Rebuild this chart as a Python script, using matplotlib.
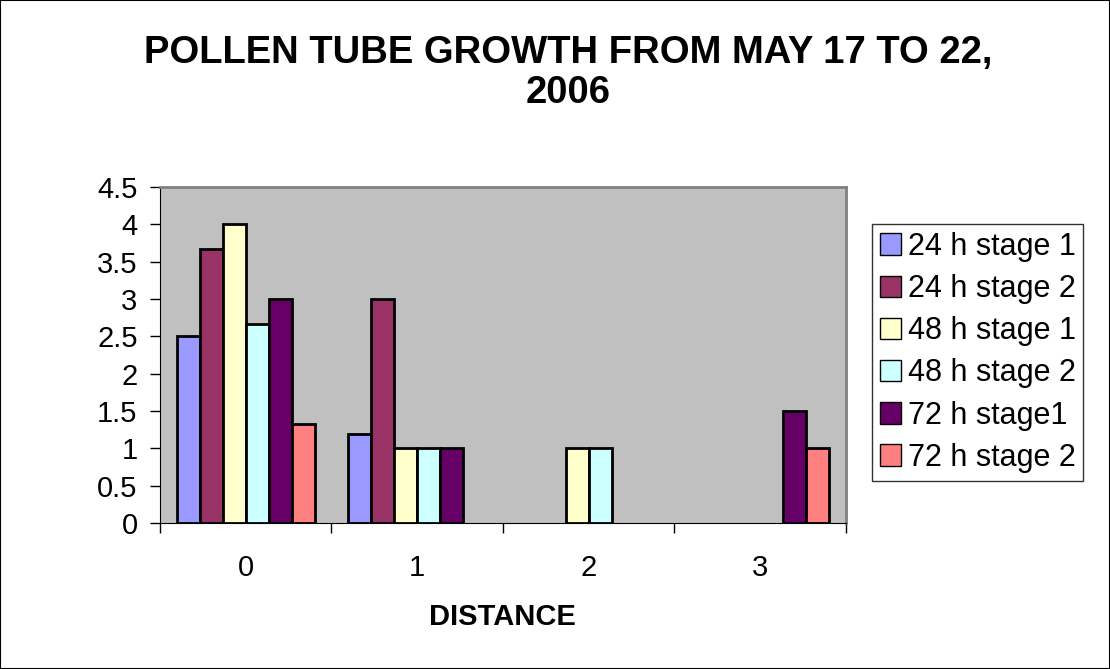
import numpy as np
import matplotlib.pyplot as plt
from matplotlib.patches import Rectangle

plt.rcParams['font.family'] = ['Liberation Sans', 'DejaVu Sans']

# data
distance = [0, 1, 2, 3]
series_names = ["24 h stage 1", "24 h stage 2", "48 h stage 1",
                "48 h stage 2", "72 h stage1", "72 h stage 2"]
s24_1 = [2.5, 1.2, 0, 0]
s24_2 = [3.67, 3, 0, 0]
s48_1 = [4, 1, 1, 0]
s48_2 = [2.67, 1, 1, 0]
s72_1 = [3, 1, 0, 1.5]
s72_2 = [1.33, 0, 0, 1]
colors = ["#9999FF", "#993366", "#FFFFCC", "#CCFFFF", "#660066", "#FF8080"]

values = [s24_1, s24_2, s48_1, s48_2, s72_1, s72_2]

fig = plt.figure(figsize=(11.1, 6.69), dpi=100)
ax = fig.add_axes([0.144, 0.218, 0.618, 0.5025])
ax.set_facecolor("#C0C0C0")

x = np.arange(len(distance))
w = 0.134
for i, (vals, name, c) in enumerate(zip(values, series_names, colors)):
    vals = np.array(vals, dtype=float)
    keep = vals > 0  # empty cells draw nothing
    ax.bar(x[keep] + (i - 2.5) * w, vals[keep], width=w, color=c,
           edgecolor="black", linewidth=2, label=name, zorder=3)

ax.set_xlim(-0.5, 3.5)
ax.set_ylim(0, 4.5)
ax.set_yticks(np.arange(0, 4.51, 0.5))
ax.set_yticklabels(["0", "0.5", "1", "1.5", "2", "2.5", "3", "3.5", "4", "4.5"])
ax.set_xticks(x)
ax.set_xticklabels([str(d) for d in distance])
ax.set_xticks(np.arange(-0.5, 3.6, 1), minor=True)
ax.tick_params(axis="x", which="major", length=0, labelsize=21, pad=22)
ax.tick_params(axis="x", which="minor", length=7, width=1, color="black")
ax.tick_params(axis="y", length=7, width=1, labelsize=21, pad=9)

for side in ["top", "right"]:
    ax.spines[side].set_color("#808080")
    ax.spines[side].set_linewidth(2)
ax.spines["left"].set_color("black")
ax.spines["bottom"].set_color("black")

ax.set_xlabel("DISTANCE", fontsize=21, fontweight="bold", labelpad=15)

fig.text(0.512, 0.891, "POLLEN TUBE GROWTH FROM MAY 17 TO 22,\n2006",
         ha="center", va="center", fontsize=27.5, fontweight="bold",
         linespacing=1.15)

leg = ax.legend(loc="upper left", bbox_to_anchor=(0.786, 0.665),
                bbox_transform=fig.transFigure, fontsize=22, frameon=True,
                fancybox=False, edgecolor="black", handlelength=0.7,
                handleheight=0.7, handletextpad=0.2, labelspacing=0.4,
                borderpad=0.25, borderaxespad=0)
leg.get_frame().set_linewidth(1)
for h in leg.get_patches():
    h.set_linewidth(1)

fig.patches.append(Rectangle((0, 0), 1, 1, transform=fig.transFigure,
                             fill=False, edgecolor="black", linewidth=1.5))

fig.savefig("out.png", dpi=100)
